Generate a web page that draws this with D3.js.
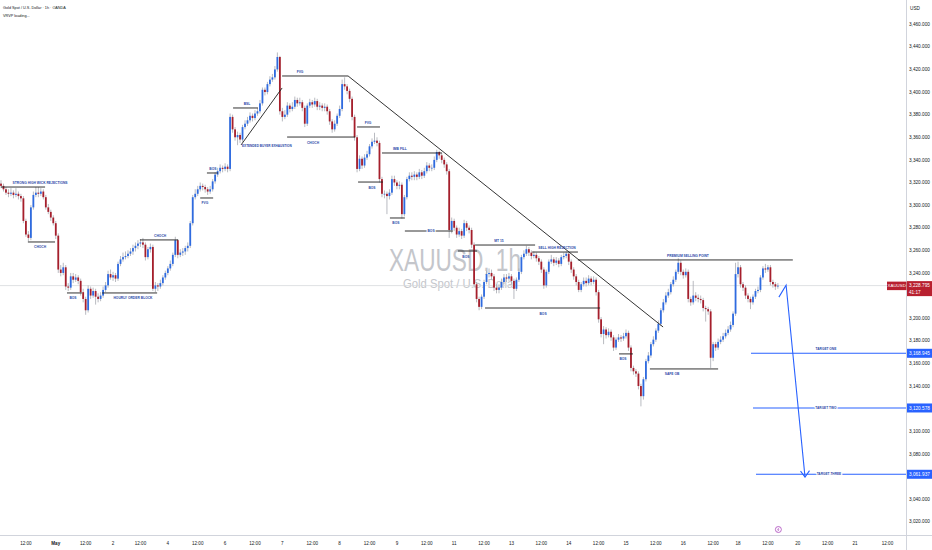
<!DOCTYPE html>
<html><head><meta charset="utf-8">
<script src="https://cdn.jsdelivr.net/npm/d3@7"></script>
<style>body{margin:0;background:#fff}svg{display:block;font-family:"Liberation Sans",Arial,sans-serif}</style>
</head><body><svg id="c" width="932" height="550"></svg>
<script>
// ---------------- DATA ----------------
const firstOpen = 3319;
const closes = [
3317,3314,3311,3310,3311,3309,3310,3308,3306,3286,
3274,3271,3298,3309,3311,3310,3312,3307,3298,3294,
3289,3284,3273,3243,3240,3245,3228,3227,3237,3234,
3236,3233,3223,3217,3207,3226,3220,3224,3219,3217,
3220,3225,3229,3239,3236,3238,3235,3248,3252,3254,
3255,3257,3259,3262,3264,3266,3267,3265,3254,3261,
3263,3226,3229,3228,3231,3236,3240,3244,3248,3256,
3269,3256,3258,3259,3262,3264,3284,3307,3310,3314,
3317,3316,3314,3312,3314,3321,3327,3330,3333,3332,
3334,3332,3378,3367,3360,3362,3358,3369,3372,3375,
3379,3377,3381,3383,3390,3402,3400,3407,3411,3413,
3420,3431,3383,3378,3380,3388,3385,3387,3393,3390,
3391,3386,3372,3388,3391,3389,3392,3387,3388,3386,
3387,3383,3374,3367,3372,3379,3385,3407,3405,3401,
3394,3378,3360,3332,3341,3335,3342,3345,3352,3356,
3357,3355,3323,3310,3310,3308,3311,3323,3320,3317,
3318,3292,3307,3323,3326,3325,3327,3325,3329,3326,
3330,3335,3333,3333,3340,3347,3344,3340,3336,3330,
3278,3286,3280,3274,3277,3273,3284,3280,3278,3265,
3230,3217,3210,3219,3232,3239,3240,3237,3227,3225,
3227,3232,3236,3235,3237,3233,3226,3234,3241,3254,
3257,3261,3258,3255,3256,3253,3250,3243,3229,3241,
3250,3252,3249,3251,3248,3254,3255,3257,3250,3243,
3237,3232,3225,3230,3233,3231,3235,3232,3234,3223,
3199,3186,3190,3185,3188,3183,3174,3181,3183,3182,
3184,3187,3174,3156,3153,3151,3140,3131,3146,3162,
3167,3177,3181,3189,3195,3207,3214,3220,3223,3230,
3234,3241,3249,3241,3238,3241,3217,3214,3220,3218,
3217,3216,3209,3208,3206,3165,3177,3174,3179,3181,
3184,3187,3190,3194,3204,3239,3245,3230,3227,3220,
3217,3214,3219,3224,3225,3236,3244,3243,3245,3232,
3230,3228,3228.795];
const highs = [
3322,3319,3316,3314,3315,3313,3315,3312,3310,3308,
3288,3277,3300,3312,3316,3316,3315,3314,3309,3301,
3296,3291,3286,3275,3247,3249,3247,3231,3240,3240,
3239,3238,3235,3226,3219,3229,3228,3227,3226,3222,
3223,3228,3232,3242,3243,3241,3240,3250,3255,3258,
3259,3260,3262,3265,3267,3269,3270,3271,3267,3263,
3266,3265,3232,3231,3234,3238,3242,3246,3251,3258,
3272,3270,3261,3262,3264,3267,3286,3309,3314,3317,
3320,3319,3318,3316,3317,3323,3329,3333,3336,3335,
3337,3336,3381,3380,3369,3365,3364,3371,3375,3378,
3382,3381,3384,3386,3393,3404,3404,3409,3414,3416,
3423,3435,3432,3386,3384,3391,3390,3391,3396,3395,
3395,3393,3388,3390,3394,3393,3395,3394,3391,3390,
3390,3389,3385,3376,3375,3381,3388,3411,3413,3407,
3403,3396,3380,3362,3344,3343,3345,3348,3354,3359,
3364,3360,3357,3325,3313,3312,3314,3326,3326,3322,
3321,3320,3309,3325,3329,3329,3330,3329,3332,3331,
3333,3338,3337,3336,3343,3349,3348,3346,3342,3338,
3332,3289,3288,3282,3280,3279,3287,3286,3282,3280,
3267,3232,3219,3221,3234,3242,3244,3243,3239,3230,
3230,3235,3239,3239,3240,3239,3235,3236,3244,3256,
3260,3264,3263,3260,3259,3258,3255,3252,3245,3243,
3252,3256,3254,3254,3253,3256,3258,3259,3258,3252,
3245,3239,3234,3232,3236,3236,3238,3237,3237,3236,
3225,3201,3193,3192,3191,3190,3185,3183,3186,3185,
3187,3190,3189,3176,3158,3155,3153,3142,3148,3164,
3170,3179,3184,3191,3198,3209,3217,3223,3226,3232,
3237,3243,3253,3251,3243,3244,3243,3219,3233,3223,
3221,3220,3218,3211,3210,3208,3179,3179,3182,3184,
3187,3190,3193,3197,3206,3249,3250,3247,3232,3229,
3222,3219,3221,3226,3228,3238,3246,3248,3247,3247,
3234,3232,3231];
const lows = [
3315,3312,3309,3307,3308,3306,3307,3305,3303,3284,
3272,3268,3269,3296,3307,3307,3308,3305,3296,3292,
3286,3282,3270,3240,3237,3238,3225,3224,3225,3231,
3232,3230,3220,3214,3203,3205,3217,3218,3212,3214,
3215,3218,3223,3227,3234,3233,3232,3233,3246,3250,
3252,3253,3255,3256,3259,3261,3263,3262,3251,3252,
3258,3224,3223,3224,3226,3229,3234,3238,3242,3246,
3254,3253,3254,3255,3256,3259,3262,3282,3305,3308,
3312,3313,3311,3309,3310,3312,3319,3325,3328,3329,
3330,3329,3330,3364,3357,3353,3355,3356,3367,3370,
3373,3374,3375,3379,3381,3388,3397,3398,3405,3409,
3411,3418,3380,3374,3376,3378,3382,3383,3385,3387,
3388,3383,3369,3370,3386,3386,3387,3384,3384,3383,
3383,3380,3371,3364,3365,3370,3377,3383,3402,3398,
3391,3375,3357,3329,3330,3332,3333,3340,3343,3350,
3354,3352,3320,3307,3306,3292,3305,3309,3317,3314,
3314,3288,3290,3305,3321,3322,3322,3322,3323,3323,
3324,3328,3330,3330,3331,3338,3341,3337,3333,3327,
3271,3275,3277,3271,3272,3270,3271,3277,3275,3262,
3227,3214,3207,3208,3217,3230,3236,3234,3224,3222,
3222,3225,3230,3232,3233,3230,3217,3224,3232,3239,
3252,3255,3255,3252,3253,3250,3247,3240,3226,3227,
3239,3248,3246,3247,3245,3246,3252,3253,3247,3240,
3234,3229,3223,3223,3228,3228,3229,3229,3230,3220,
3196,3183,3177,3182,3183,3180,3171,3172,3179,3179,
3180,3182,3171,3153,3150,3148,3137,3122,3128,3144,
3160,3165,3175,3179,3187,3193,3205,3212,3218,3221,
3228,3232,3239,3238,3235,3236,3214,3211,3212,3215,
3214,3213,3206,3197,3203,3156,3162,3171,3172,3177,
3179,3182,3185,3188,3192,3202,3236,3227,3224,3217,
3214,3208,3212,3217,3222,3223,3234,3240,3241,3229,
3227,3225,3226];

const priceTicks = [3460,3440,3420,3400,3380,3360,3340,3320,3300,3280,3260,3240,3200,3180,3160,3140,3100,3080,3040,3020];
const timeLabels = ["12:00","May","12:00","2","12:00","4","12:00","6","12:00","7","12:00","8","12:00","9","12:00","11",
 "12:00","13","12:00","14","12:00","15","12:00","16","12:00","18","12:00","20","12:00","21","12:00"];
const timeBars = [10,22,34,45,56,67,79,90,102,113,125,136,148,159,171,182,194,205,217,228,240,251,263,274,286,296,308,320,332,343,356];

const levelNames  = ["STRONG HIGH WICK REJECTIONS","CHOCH","BOS","HOURLY ORDER BLOCK","CHOCH","FVG","BOS","BSL","FVG","CHOCH","FVG","BOS","IMB FILL","BOS","BOS","BOS","MT 15","SELL HIGH REJECTION","PREMIUM SELLING POINT","BOS","BOS","SAFE OB"];
const levelPrices = [3316.0,3267.4,3222.3,3222.3,3269.2,3306.3,3328.4,3385.9,3414.2,3360.2,3369.1,3320.4,3346.1,3288.6,3277.1,3259.4,3264.7,3258.5,3251.5,3209.0,3168.4,3155.1];
const levelFrom   = [0,10.8,26.5,40.6,55.8,80,82.7,93.2,112.9,114.9,143,143.4,153,156.2,162.2,183.5,190.4,213.3,231.7,194.4,248.2,260.6];
const levelTo     = [17.7,21.7,32.5,62.7,71.1,85.2,87.1,103.2,139.4,142.2,152.2,153.4,177.1,162.2,181.5,191.2,214.5,231.7,318,240.6,253.8,288];
const levelLabelAt= [15.7,15.7,28.9,53,63.9,81.9,85.1,98.8,120.1,125.3,147.4,149,160.2,158.6,172.7,186.7,200,223.3,275.9,217.7,249.8,269.5];
const levelSide   = ["above","below","below","below","above","below","above","above","above","below","above","below","above","below","on","below","above","above","above","below","below","below"];

const targetNames  = ["TARGET ONE","TARGET TWO","TARGET THREE"];
const targetPrices = [3168.945,3120.578,3061.937];
const targetFrom   = [301.2,302,303.2];
const targetLabelAt= [331.3,331.3,332.5];
const targetSide   = ["above","on","on"];

const trendLines = [[96.4,3353.2,112.9,3403.6],[139.4,3414.2,265.9,3192.2]];
const projection = [[312.4,3218.6],[315.3,3229.2],[322.9,3059.4]];
const arrowHead  = [[321.1,3064.7],[322.9,3059.4],[324.7,3065.2]];
const lastPrice = 3228.795, countdown = "41:17";

// ---------------- DRAW ----------------
const svg = d3.select("#c");
const paneRight = 906.5, axisTop = 535.5;
const X = d3.scaleLinear().domain([0, 364]).range([1, 1 + 364 * 2.49]);
const Y = d3.scaleLinear().domain([3020, 3460]).range([521.7, 24.2]);

svg.append("rect").attr("width",932).attr("height",550).attr("fill","#fff");
svg.append("defs").append("clipPath").attr("id","pane")
  .append("rect").attr("x",0).attr("y",0).attr("width",paneRight).attr("height",axisTop);
const pane = svg.append("g").attr("clip-path","url(#pane)");

// watermark
pane.append("text").attr("x",389).attr("y",271).attr("font-size",32)
  .attr("textLength",132).attr("lengthAdjust","spacingAndGlyphs")
  .attr("fill","#c4c6cb").text("XAUUSD, 1h");
pane.append("text").attr("x",403).attr("y",288).attr("font-size",12)
  .attr("textLength",114).attr("lengthAdjust","spacingAndGlyphs")
  .attr("fill","#c4c6cb").text("Gold Spot / U.S. Dollar");

// last price line
pane.append("line").attr("x1",0).attr("x2",paneRight)
  .attr("y1",Y(lastPrice)).attr("y2",Y(lastPrice))
  .attr("stroke","#d6d8dc").attr("stroke-width",0.8);

// candles
const bars = closes.map((c,i)=>({i, o: i ? closes[i-1] : firstOpen, c, h: highs[i], l: lows[i]}));
pane.append("g").selectAll("line").data(bars).join("line")
  .attr("x1",d=>X(d.i)).attr("x2",d=>X(d.i))
  .attr("y1",d=>Y(d.h)).attr("y2",d=>Y(d.l))
  .attr("stroke","#a7aab1").attr("stroke-width",0.8);
pane.append("g").selectAll("rect").data(bars).join("rect")
  .attr("x",d=>X(d.i)-0.9).attr("width",1.8)
  .attr("y",d=>Y(Math.max(d.o,d.c)))
  .attr("height",d=>Math.max(0.7, Math.abs(Y(d.o)-Y(d.c))))
  .attr("fill",d=>d.c>=d.o ? "#2f6be0" : "#a61f2c");

// annotation helpers
function label(g, text, x, y, side, color, fs){
  const dy = side==="above" ? -3.2 : side==="below" ? 6.5 : 1.2;
  const t = g.append("text").attr("x",x).attr("y",y+dy).attr("text-anchor","middle")
    .attr("font-size",fs).attr("font-weight","bold").attr("fill",color).text(text);
  if (side==="on") t.attr("stroke","#fff").attr("stroke-width",2.2).attr("paint-order","stroke");
}
const ann = pane.append("g");
levelNames.forEach((n,k)=>{
  ann.append("line").attr("x1",X(levelFrom[k])).attr("x2",X(levelTo[k]))
    .attr("y1",Y(levelPrices[k])).attr("y2",Y(levelPrices[k]))
    .attr("stroke","#1c1c1c").attr("stroke-width",0.9);
});
trendLines.forEach(t=>{
  ann.append("line").attr("x1",X(t[0])).attr("y1",Y(t[1])).attr("x2",X(t[2])).attr("y2",Y(t[3]))
    .attr("stroke","#1c1c1c").attr("stroke-width",0.9);
});
levelNames.forEach((n,k)=> label(ann, n, X(levelLabelAt[k]), Y(levelPrices[k]), levelSide[k], "#2a47a8", 3.3));
ann.append("text").attr("x",X(96.8)).attr("y",Y(3352.3)+1.2).attr("font-size",3.1)
  .attr("font-weight","bold").attr("fill","#2a47a8").text("EXTENDED BUYER EXHAUSTION");

// targets
targetNames.forEach((n,k)=>{
  ann.append("line").attr("x1",X(targetFrom[k])).attr("x2",paneRight)
    .attr("y1",Y(targetPrices[k])).attr("y2",Y(targetPrices[k]))
    .attr("stroke","#2962ff").attr("stroke-width",1.1);
  label(ann, n, X(targetLabelAt[k]), Y(targetPrices[k]), targetSide[k], "#2a47a8", 3.2);
});

// projection arrow
const ln = d3.line().x(d=>X(d[0])).y(d=>Y(d[1]));
ann.append("path").attr("d",ln(projection)).attr("fill","none").attr("stroke","#2962ff").attr("stroke-width",1.1);
ann.append("path").attr("d",ln(arrowHead)).attr("fill","none").attr("stroke","#2962ff").attr("stroke-width",1.1);

// ----- axes -----
const axisCol = "#131722";
svg.append("rect").attr("x",paneRight).attr("y",0).attr("width",932-paneRight).attr("height",550).attr("fill","#fff");
svg.append("rect").attr("x",0).attr("y",axisTop).attr("width",932).attr("height",550-axisTop).attr("fill","#fff");
svg.append("line").attr("x1",paneRight).attr("x2",paneRight).attr("y1",0).attr("y2",550).attr("stroke","#d1d4dc").attr("stroke-width",1);
svg.append("line").attr("x1",0).attr("x2",932).attr("y1",axisTop).attr("y2",axisTop).attr("stroke","#d1d4dc").attr("stroke-width",1);

const fmt = d3.format(",.3f");
svg.append("g").selectAll("text").data(priceTicks).join("text")
  .attr("x",909).attr("y",d=>Y(d)).attr("dy","0.35em").attr("font-size",4.7)
  .attr("fill",axisCol).text(d=>fmt(d));
svg.append("text").attr("x",910).attr("y",9.5).attr("font-size",4.7).attr("fill",axisCol).text("USD");

svg.append("g").selectAll("text").data(timeLabels).join("text")
  .attr("x",(d,k)=>X(timeBars[k])).attr("y",545).attr("text-anchor","middle")
  .attr("font-size",4.6).attr("font-weight",d=>d==="May"?"bold":"normal")
  .attr("fill",axisCol).text(d=>d);

// target price labels
targetPrices.forEach(p=>{
  svg.append("rect").attr("x",907).attr("y",Y(p)-4.5).attr("width",25).attr("height",9).attr("fill","#2962ff");
  svg.append("text").attr("x",909).attr("y",Y(p)).attr("dy","0.35em").attr("font-size",4.7).attr("fill","#fff").text(fmt(p));
});
// last price label
const ly = Y(lastPrice);
svg.append("rect").attr("x",887).attr("y",ly-4).attr("width",19.5).attr("height",8.5).attr("fill","#b8202f");
svg.append("text").attr("x",896.7).attr("y",ly).attr("dy","0.35em").attr("text-anchor","middle").attr("font-size",4.4).attr("fill","#fff").text("XAUUSD");
svg.append("rect").attr("x",907).attr("y",ly-4.5).attr("width",25).attr("height",15).attr("fill","#b8202f");
svg.append("text").attr("x",909).attr("y",ly).attr("dy","0.35em").attr("font-size",4.7).attr("fill","#fff").text(fmt(lastPrice));
svg.append("text").attr("x",909).attr("y",ly+6.5).attr("dy","0.35em").attr("font-size",4.7).attr("fill","#fff").text(countdown);

// event icon
const ex = X(312.2), ey = 529.5;
svg.append("circle").attr("cx",ex).attr("cy",ey).attr("r",3).attr("fill","#fff").attr("stroke","#ab47bc").attr("stroke-width",0.8);
svg.append("path").attr("d",`M${ex+0.6},${ey-1.8}L${ex-0.8},${ey+0.2}L${ex+0.6},${ey+0.2}L${ex-0.6},${ey+1.8}`)
  .attr("fill","none").attr("stroke","#ab47bc").attr("stroke-width",0.6);

// header
svg.append("text").attr("x",3).attr("y",8.5).attr("font-size",3.8).attr("fill",axisCol).text("Gold Spot / U.S. Dollar · 1h · OANDA");
svg.append("text").attr("x",3).attr("y",17).attr("font-size",3.8).attr("fill",axisCol).text("VRVP loading...");
</script></body></html>
